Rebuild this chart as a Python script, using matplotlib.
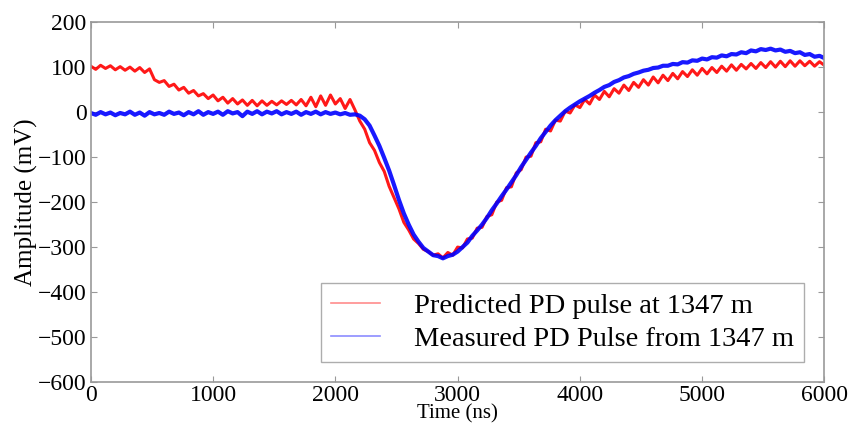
import numpy as np
import matplotlib.pyplot as plt

plt.rcParams['font.family'] = ['Liberation Serif', 'DejaVu Serif']

# sample times (ns), one reading every 40 ns
t = np.arange(0, 6001, 40)

# predicted PD pulse (mV)
predicted = [
    102, 95, 104, 97, 103, 94, 101, 93, 100, 91,
    99, 88, 96, 72, 66, 70, 57, 62, 49, 55,
    42, 48, 36, 41, 30, 38, 25, 33, 20, 30,
    18, 27, 15, 26, 14, 25, 15, 24, 16, 25,
    17, 26, 16, 28, 14, 33, 12, 36, 15, 38,
    18, 30, 8, 28, 5, -20, -38, -68, -85, -112,
    -132, -165, -190, -215, -245, -262, -282, -292, -305, -310,
    -318, -315, -324, -312, -318, -300, -302, -282, -280, -258,
    -256, -232, -228, -200, -196, -168, -166, -135, -128, -100,
    -98, -68, -66, -38, -42, -18, -20, 2, -2, 16,
    10, 28, 18, 38, 28, 46, 34, 52, 42, 60,
    48, 66, 55, 72, 60, 78, 65, 82, 70, 86,
    74, 90, 79, 94, 82, 97, 85, 99, 88, 102,
    91, 105, 93, 106, 96, 108, 97, 110, 99, 112,
    100, 113, 101, 114, 102, 114, 103, 113, 102, 112,
    104,
]

# measured PD pulse (mV)
measured = [
    -2, -6, 0, -5, -1, -7, -2, -5, 1, -6,
    -1, -8, 0, -5, -2, -6, 1, -4, -1, -7,
    0, -5, 2, -6, 0, -4, 1, -6, 2, -3,
    0, -9, 1, -4, 2, -5, 1, -3, 2, -5,
    0, -4, 1, -6, 0, -4, 1, -5, 0, -4,
    -1, -5, -2, -6, -5, -8, -16, -30, -52, -75,
    -102, -130, -162, -195, -225, -250, -272, -288, -302, -310,
    -318, -320, -325, -320, -317, -310, -300, -290, -275, -263,
    -250, -235, -218, -203, -187, -172, -156, -140, -122, -106,
    -90, -75, -58, -44, -30, -18, -8, 2, 10, 17,
    24, 30, 36, 43, 49, 56, 60, 67, 71, 77,
    80, 85, 88, 92, 94, 98, 99, 103, 103, 107,
    106, 111, 110, 115, 114, 119, 117, 122, 121, 126,
    124, 129, 128, 133, 131, 137, 135, 140, 138, 141,
    137, 139, 134, 136, 131, 133, 127, 129, 123, 125,
    120,
]

fig = plt.figure(figsize=(8.49, 4.25), dpi=100)
ax = fig.add_axes([0.107, 0.101, 0.864, 0.847])

ax.plot(t, predicted, color='red', lw=2.2, alpha=0.9, label='Predicted PD pulse at 1347 m')
ax.plot(t, measured, color='blue', lw=3.0, alpha=0.9, label='Measured PD Pulse from 1347 m')

ax.set_xlim(0, 6000)
ax.set_ylim(-600, 200)
ax.set_xticks(range(0, 6001, 1000))
ax.set_yticks(range(-600, 201, 100))
ax.set_yticklabels(['\u2212600', '\u2212500', '\u2212400', '\u2212300', '\u2212200',
                    '\u2212100', '0', '100', '200'])

for s in ax.spines.values():
    s.set_color('#999999')
    s.set_linewidth(1.2)
ax.tick_params(direction='in', top=True, right=True, length=4, color='#999999',
               labelsize=17)
ax.tick_params(axis='x', pad=2)
ax.tick_params(axis='y', pad=3)

ax.set_xlabel('Time (ns)', fontsize=15, labelpad=-1)
ax.set_ylabel('Amplitude (mV)', fontsize=18, labelpad=0)

leg = ax.legend(loc='lower right', fontsize=20.5, frameon=True, fancybox=False,
                handlelength=1.7, handletextpad=1.2, borderpad=0.35,
                borderaxespad=0.72, labelspacing=0.25)
leg.get_frame().set_edgecolor('#999999')
for line in leg.get_lines():
    line.set_linewidth(1.2)
    line.set_alpha(0.45)

fig.savefig('out.png', dpi=100)
